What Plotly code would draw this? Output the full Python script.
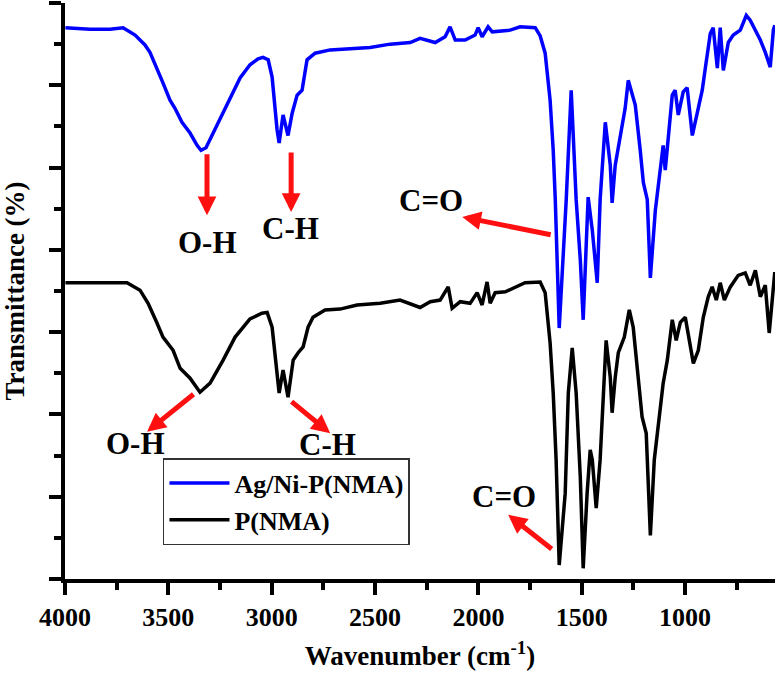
import plotly.graph_objects as go

# Ag/Ni-P(NMA) spectrum (wavenumber cm-1, transmittance a.u.)
blue_x = [3998, 3879, 3782, 3719, 3661, 3613, 3589, 3555, 3526, 3492, 3468, 3434, 3395, 3361, 3342,
          3318, 3289, 3250, 3201, 3153, 3105, 3066, 3042, 3017, 2998, 2984, 2974, 2964, 2945, 2921,
          2901, 2877, 2853, 2829, 2790, 2717, 2621, 2524, 2427, 2330, 2282, 2209, 2161, 2137, 2112,
          2064, 2016, 2001, 1982, 1953, 1933, 1846, 1798, 1749, 1725, 1701, 1677, 1653, 1638, 1628,
          1619, 1609, 1575, 1551, 1527, 1507, 1493, 1478, 1469, 1449, 1425, 1411, 1386, 1362, 1353,
          1338, 1314, 1290, 1275, 1241, 1217, 1202, 1183, 1168, 1144, 1120, 1106, 1096, 1081, 1062,
          1048, 1033, 1009, 990, 965, 941, 917, 902, 878, 864, 844, 830, 815, 791, 767,
          733, 704, 685, 660, 636, 612, 588, 573, 566]
blue_y = [6.70, 6.68, 6.68, 6.70, 6.61, 6.49, 6.40, 6.21, 6.03, 5.82, 5.72, 5.55, 5.42, 5.27, 5.21,
          5.24, 5.39, 5.60, 5.86, 6.09, 6.25, 6.32, 6.34, 6.31, 6.10, 5.70, 5.46, 5.30, 5.64, 5.39,
          5.66, 5.88, 5.94, 6.31, 6.39, 6.43, 6.44, 6.46, 6.50, 6.52, 6.57, 6.52, 6.59, 6.71, 6.55,
          6.55, 6.61, 6.70, 6.59, 6.71, 6.65, 6.67, 6.71, 6.71, 6.70, 6.60, 6.39, 5.82, 5.21, 4.61,
          3.88, 3.05, 4.61, 5.94, 4.61, 3.88, 3.15, 4.00, 4.64, 4.24, 3.60, 4.61, 5.55, 5.03, 4.57,
          5.03, 5.39, 5.72, 6.06, 5.76, 5.21, 4.82, 4.61, 3.66, 4.48, 5.01, 5.27, 4.97, 5.33, 5.88,
          5.94, 5.64, 5.92, 5.97, 5.39, 5.66, 5.94, 6.21, 6.63, 6.70, 6.21, 6.70, 6.18, 6.52, 6.61,
          6.67, 6.85, 6.79, 6.67, 6.55, 6.40, 6.22, 6.67, 6.73]

# P(NMA) spectrum
black_x = [3998, 3700, 3637, 3598, 3555, 3526, 3477, 3443, 3395, 3347, 3298, 3235, 3177, 3105, 3047,
           3022, 2998, 2984, 2964, 2945, 2921, 2896, 2872, 2848, 2824, 2800, 2742, 2669, 2587, 2475,
           2379, 2282, 2233, 2185, 2146, 2127, 2088, 2040, 2006, 1982, 1958, 1943, 1919, 1870, 1822,
           1774, 1701, 1677, 1653, 1638, 1624, 1614, 1609, 1580, 1565, 1546, 1527, 1507, 1493, 1474,
           1459, 1449, 1430, 1411, 1396, 1382, 1362, 1353, 1338, 1323, 1294, 1270, 1251, 1232, 1208,
           1188, 1168, 1149, 1120, 1106, 1086, 1062, 1043, 1023, 999, 975, 960, 936, 912, 888,
           869, 849, 830, 810, 781, 743, 709, 685, 660, 636, 612, 593, 573, 566]
black_y = [3.60, 3.60, 3.51, 3.35, 3.11, 2.94, 2.78, 2.56, 2.44, 2.27, 2.38, 2.66, 2.94, 3.16, 3.23,
           3.24, 3.06, 2.70, 2.26, 2.54, 2.21, 2.66, 2.75, 2.82, 3.06, 3.18, 3.27, 3.28, 3.33, 3.35,
           3.39, 3.30, 3.37, 3.39, 3.55, 3.29, 3.37, 3.35, 3.48, 3.33, 3.61, 3.35, 3.48, 3.49, 3.54,
           3.60, 3.61, 3.48, 2.87, 2.26, 1.45, 0.63, 0.17, 1.04, 2.26, 2.81, 2.26, 1.24, 0.13, 1.04,
           1.57, 1.45, 0.86, 1.45, 2.26, 2.90, 2.45, 2.02, 2.45, 2.75, 2.94, 3.27, 3.06, 2.54, 1.97,
           1.77, 0.53, 1.45, 2.05, 2.38, 2.66, 3.15, 2.90, 3.12, 3.18, 2.87, 2.62, 2.78, 3.18, 3.43,
           3.55, 3.39, 3.60, 3.39, 3.55, 3.69, 3.72, 3.57, 3.75, 3.43, 3.57, 2.99, 3.63, 3.73]

series_names = ["Ag/Ni-P(NMA)", "P(NMA)"]
x_tick_vals = [4000, 3500, 3000, 2500, 2000, 1500, 1000]

FONT = "Liberation Serif, Times New Roman, serif"
RED = "#ff1010"

fig = go.Figure()
fig.add_trace(go.Scatter(x=blue_x, y=blue_y, mode="lines", name=series_names[0],
                         line=dict(color="#0000ff", width=3.5)))
fig.add_trace(go.Scatter(x=black_x, y=black_y, mode="lines", name=series_names[1],
                         line=dict(color="#000000", width=3.5)))

# (label, label_x, label_y, tail_x, tail_y, tip_x, tip_y)
notes = [
    ("O-H", 3313, 4.09, 3313, 5.18, 3313, 4.42),
    ("C-H", 2911, 4.26, 2906, 5.20, 2906, 4.46),
    ("C=O", 2228, 4.60, 1643, 4.18, 2078, 4.40),
    ("O-H", 3661, 1.65, 3371, 2.26, 3603, 1.79),
    ("C-H", 2732, 1.63, 2911, 2.17, 2717, 1.77),
    ("C=O", 1875, 1.00, 1638, 0.35, 1856, 0.78),
]
for label, lx, ly, tx, ty, hx, hy in notes:
    fig.add_annotation(x=hx, y=hy, ax=tx, ay=ty, axref="x", ayref="y", xref="x", yref="y",
                       text="", showarrow=True, arrowhead=2, arrowsize=0.75, arrowwidth=5,
                       arrowcolor=RED, standoff=0, startstandoff=0)
    fig.add_annotation(x=lx, y=ly, xref="x", yref="y", text=label, showarrow=False,
                       font=dict(family=FONT, size=31, color="black", weight="bold"))

fig.update_layout(
    width=779, height=678,
    margin=dict(l=65, r=4, t=3, b=99),
    plot_bgcolor="white", paper_bgcolor="white",
    font=dict(family=FONT, color="black", size=26, weight="bold"),
    legend=dict(x=0.138, y=0.21, xanchor="left", yanchor="top",
                bordercolor="#333333", borderwidth=1.5, bgcolor="white",
                font=dict(family=FONT, size=26, color="black", weight="bold"),
                itemwidth=60, tracegroupgap=0),
)
fig.update_xaxes(
    range=[4000, 565], tickvals=x_tick_vals, ticks="outside", ticklen=12, tickwidth=4,
    tickcolor="black", showline=True, linewidth=4, linecolor="black", showgrid=False,
    zeroline=False, mirror=False,
    minor=dict(dtick=250, tick0=0, ticks="outside", ticklen=7, tickwidth=4, tickcolor="black"),
    tickfont=dict(family=FONT, size=26, color="black", weight="bold"),
    title=dict(text="Wavenumber (cm<sup>-1</sup>)", standoff=16,
               font=dict(family=FONT, size=27, color="black", weight="bold")),
)
fig.update_yaxes(
    range=[0, 7], dtick=1, tick0=0, ticks="outside", ticklen=12, tickwidth=4, tickcolor="black",
    showticklabels=False, showline=True, linewidth=4, linecolor="black", showgrid=False,
    zeroline=False,
    minor=dict(dtick=0.5, tick0=0, ticks="outside", ticklen=7, tickwidth=4, tickcolor="black"),
    title=dict(text="Transmittance (%)", standoff=32,
               font=dict(family=FONT, size=27, color="black", weight="bold")),
)

fig.write_html("out.html", config={"displayModeBar": False},
               post_script="document.body.style.margin='0';")
